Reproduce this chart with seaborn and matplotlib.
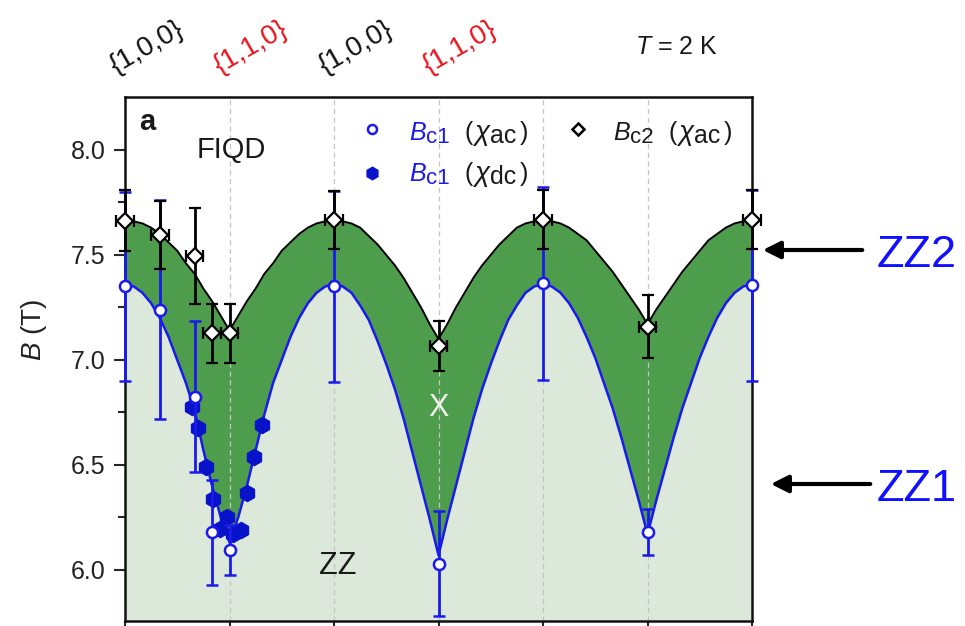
import matplotlib
matplotlib.use("Agg")
import matplotlib.pyplot as plt
import matplotlib.patches as mpatches
import seaborn as sns
from matplotlib.transforms import blended_transform_factory

# ---------------- data ----------------
curve_angle = [0, 2.5, 5, 7.5, 10, 12.5, 15, 17.5, 20, 22.5, 25, 27.5, 30,
               32.5, 35, 37.5, 40, 42.5, 45, 47.5, 50, 52.5, 55, 57.5, 60,
               62.5, 65, 67.5, 70, 72.5, 75, 77.5, 80, 82.5, 85, 87.5, 90,
               92.5, 95, 97.5, 100, 102.5, 105, 107.5, 110, 112.5, 115, 117.5, 120,
               122.5, 125, 127.5, 130, 132.5, 135, 137.5, 140, 142.5, 145, 147.5, 150,
               152.5, 155, 157.5, 160, 162.5, 165, 167.5, 170, 172.5, 175, 177.5, 180]
bc1_curve = [7.36, 7.35, 7.32, 7.27, 7.20, 7.11, 7.00, 6.89, 6.76, 6.57, 6.40, 6.25, 6.13,
             6.25, 6.40, 6.57, 6.74, 6.89, 7.00, 7.11, 7.20, 7.27, 7.32, 7.35, 7.36,
             7.35, 7.32, 7.26, 7.19, 7.09, 6.98, 6.86, 6.72, 6.56, 6.40, 6.24, 6.07,
             6.24, 6.40, 6.56, 6.72, 6.86, 6.98, 7.09, 7.19, 7.26, 7.32, 7.35, 7.36,
             7.35, 7.32, 7.27, 7.20, 7.11, 7.01, 6.89, 6.77, 6.63, 6.48, 6.33, 6.17,
             6.33, 6.48, 6.63, 6.77, 6.89, 7.01, 7.11, 7.20, 7.27, 7.32, 7.35, 7.36]
bc2_curve = [7.67, 7.66, 7.65, 7.63, 7.60, 7.56, 7.52, 7.46, 7.41, 7.34, 7.28, 7.21, 7.14,
             7.21, 7.28, 7.34, 7.41, 7.46, 7.52, 7.56, 7.60, 7.63, 7.65, 7.66, 7.67,
             7.66, 7.65, 7.63, 7.59, 7.55, 7.50, 7.45, 7.39, 7.32, 7.25, 7.17, 7.10,
             7.17, 7.25, 7.32, 7.39, 7.45, 7.50, 7.55, 7.59, 7.63, 7.65, 7.66, 7.67,
             7.66, 7.65, 7.63, 7.60, 7.57, 7.52, 7.47, 7.42, 7.36, 7.30, 7.24, 7.17,
             7.24, 7.30, 7.36, 7.42, 7.47, 7.52, 7.57, 7.60, 7.63, 7.65, 7.66, 7.67]

ac_angle = [0, 10, 20, 25, 30, 60, 90, 120, 150, 180]
bc1_ac = [7.35, 7.24, 6.825, 6.18, 6.095, 7.35, 6.03, 7.365, 6.18, 7.355]
bc1_ac_err = [0.45, 0.52, 0.36, 0.25, 0.12, 0.455, 0.25, 0.46, 0.11, 0.455]
bc2_ac = [7.663, 7.595, 7.495, 7.127, 7.127, 7.667, 7.067, 7.667, 7.159, 7.667]
bc2_ac_err = [0.145, 0.16, 0.23, 0.14, 0.14, 0.137, 0.12, 0.14, 0.15, 0.14]
bc2_ac_xerr = [2.5, 2.5, 2.5, 2.5, 2.5, 2.5, 2.5, 2.5, 2.5, 2.5]

dc_angle = [19.1, 21.0, 23.3, 25.2, 27.2, 29.2, 31.0, 33.2, 35.1, 37.1, 39.2]
bc1_dc = [6.778, 6.678, 6.49, 6.337, 6.196, 6.252, 6.17, 6.19, 6.368, 6.54, 6.69]

top_angles = [0, 30, 60, 90]
top_labels = ["{1,0,0}", "{1,1,0}", "{1,0,0}", "{1,1,0}"]
top_colors = ["#111111", "#e8141e", "#111111", "#e8141e"]

y_ticks = [6.0, 6.5, 7.0, 7.5, 8.0]
x_ticks = [0, 30, 60, 90, 120, 150, 180]
dashed_angles = [30, 60, 90, 120, 150]

# ---------------- style ----------------
sns.set_theme(style="ticks")
plt.rcParams["font.family"] = ["Liberation Sans", "DejaVu Sans"]
plt.rcParams["mathtext.fontset"] = "custom"
plt.rcParams["mathtext.rm"] = "Liberation Sans"
plt.rcParams["mathtext.it"] = "Liberation Sans:italic"
plt.rcParams["mathtext.bf"] = "Liberation Sans:bold"

BLUE = "#1a1aee"
HEX = "#0812c8"
DARK = "#4e9d4c"
LIGHT = "#dbe8da"
INK = "#1a1a1a"
YMIN, YMAX = 5.757, 8.252
W, H = 965, 626

fig = plt.figure(figsize=(9.65, 6.26), dpi=100)
ax = fig.add_axes([125 / W, 5 / H, 627 / W, 524 / H])
ax.set_facecolor("white")


def ftext(px, py, s, **kw):
    """Place text at reference pixel coordinates (y measured from top)."""
    return fig.text(px / W, 1 - py / H, s, **kw)


# fills
ax.fill_between(curve_angle, YMIN, bc1_curve, color=LIGHT, lw=0, zorder=1)
ax.fill_between(curve_angle, bc1_curve, bc2_curve, color=DARK, lw=0, zorder=1)

for a in dashed_angles:
    ax.axvline(a, color="#c4c4c4", lw=0.9, ls=(0, (4, 3)), zorder=2)

# curves
sns.lineplot(x=curve_angle, y=bc2_curve, color="black", lw=1.4, ax=ax, zorder=3)
sns.lineplot(x=curve_angle, y=bc1_curve, color=BLUE, lw=1.8, ax=ax, zorder=3)

# dc points
sns.scatterplot(x=dc_angle, y=bc1_dc, marker="h", s=140, color=HEX,
                edgecolor=HEX, linewidth=0.8, ax=ax, zorder=3.5)

# ac points with error bars
ax.errorbar(ac_angle, bc1_ac, yerr=bc1_ac_err, fmt="o", ms=8, mfc="white",
            mec=BLUE, mew=1.8, ecolor=BLUE, elinewidth=2.0, capsize=4,
            capthick=1.6, zorder=4, clip_on=False)
ax.errorbar(ac_angle, bc2_ac, yerr=bc2_ac_err, xerr=bc2_ac_xerr, fmt="D", ms=8.5,
            mfc="white", mec="black", mew=1.6, ecolor="black", elinewidth=2.0,
            capsize=4, capthick=1.6, zorder=5, clip_on=False)

# axes
ax.set_xlim(0, 180)
ax.set_ylim(YMIN, YMAX)
ax.set_xticks(x_ticks)
ax.set_xticklabels([])
ax.set_yticks(y_ticks)
ax.set_yticklabels([f"{v:.1f}" for v in y_ticks], fontsize=18, color="#222222")
ax.set_yticks([6.25, 6.75, 7.25, 7.75], minor=True)
ax.tick_params(axis="y", which="major", direction="out", length=8, width=1.5, pad=6,
               left=True, right=False)
ax.tick_params(axis="y", which="minor", direction="out", length=5, width=1.5,
               left=True, right=False)
ax.tick_params(axis="x", which="major", direction="out", length=8, width=1.5,
               bottom=True, top=False)
for s in ax.spines.values():
    s.set_linewidth(1.8)
    s.set_color("#111111")
ax.set_xlabel("")
ax.set_ylabel(r"$B$ (T)", fontsize=20, color="#222222")
ax.yaxis.set_label_coords(-0.121, 0.555)

# top labels
trans = blended_transform_factory(ax.transData, ax.transAxes)
for a, lab, c in zip(top_angles, top_labels, top_colors):
    ax.text(a + 6.3, 1.095, lab, transform=trans, rotation=30, rotation_mode="anchor",
            ha="center", va="center", fontsize=20, color=c, clip_on=False)
ftext(676, 47, r"$T$ = 2 K", ha="center", va="center", fontsize=18, color=INK)

# in-axes text
ftext(139, 130, "a", fontsize=21, fontweight="bold", ha="left", va="baseline", color=INK)
ax.text(30.5, 8.0, "FIQD", fontsize=21, ha="center", va="center", color=INK)
ax.text(61, 6.02, "ZZ", fontsize=22, ha="center", va="center", color=INK)
ax.text(90, 6.77, "X", fontsize=22, ha="center", va="center", color="#f0f4ee")

# legend (manual)
ax.plot([(372 - 125) / 627], [0.939], "o", ms=6.5, mfc="white", mec=BLUE, mew=1.8,
        transform=ax.transAxes, clip_on=False, zorder=7)
ax.plot([(372 - 125) / 627], [0.855], "h", ms=9, mfc=HEX, mec=HEX,
        transform=ax.transAxes, clip_on=False, zorder=7)
ax.plot([(578 - 125) / 627], [0.939], "D", ms=6.5, mfc="white", mec="black", mew=1.8,
        transform=ax.transAxes, clip_on=False, zorder=7)

legend_rows = [
    (409, 140, "c1", BLUE, "ac"),
    (409, 181, "c1", BLUE, "dc"),
    (613, 140, "c2", INK, "ac"),
]
for x0, yb, sub, col, chisub in legend_rows:
    ftext(x0, yb, "B", fontsize=18, style="italic", color=col, va="baseline")
    ftext(x0 + 17, yb + 3, sub, fontsize=16, color=col, va="baseline")
    ftext(x0 + 55, yb, "(", fontsize=18, color=INK, va="baseline")
    ftext(x0 + 65, yb, "χ", fontsize=20, style="italic", color=INK, va="baseline")
    ftext(x0 + 81, yb + 3, chisub, fontsize=18, color=INK, va="baseline")
    ftext(x0 + 111, yb, ")", fontsize=18, color=INK, va="baseline")

# right-side annotations
for label, xtip, ytip in [("ZZ2", 760, 250), ("ZZ1", 768, 484)]:
    fig.patches.append(mpatches.FancyArrowPatch(
        (xtip + 105, H - ytip), (xtip, H - ytip), transform=None,
        arrowstyle="-|>", mutation_scale=26, lw=3, color="black"))
    ftext(877, ytip + 17, label, fontsize=32.5, color="#1010ff", ha="left", va="baseline")

fig.savefig("out.png", dpi=100)
